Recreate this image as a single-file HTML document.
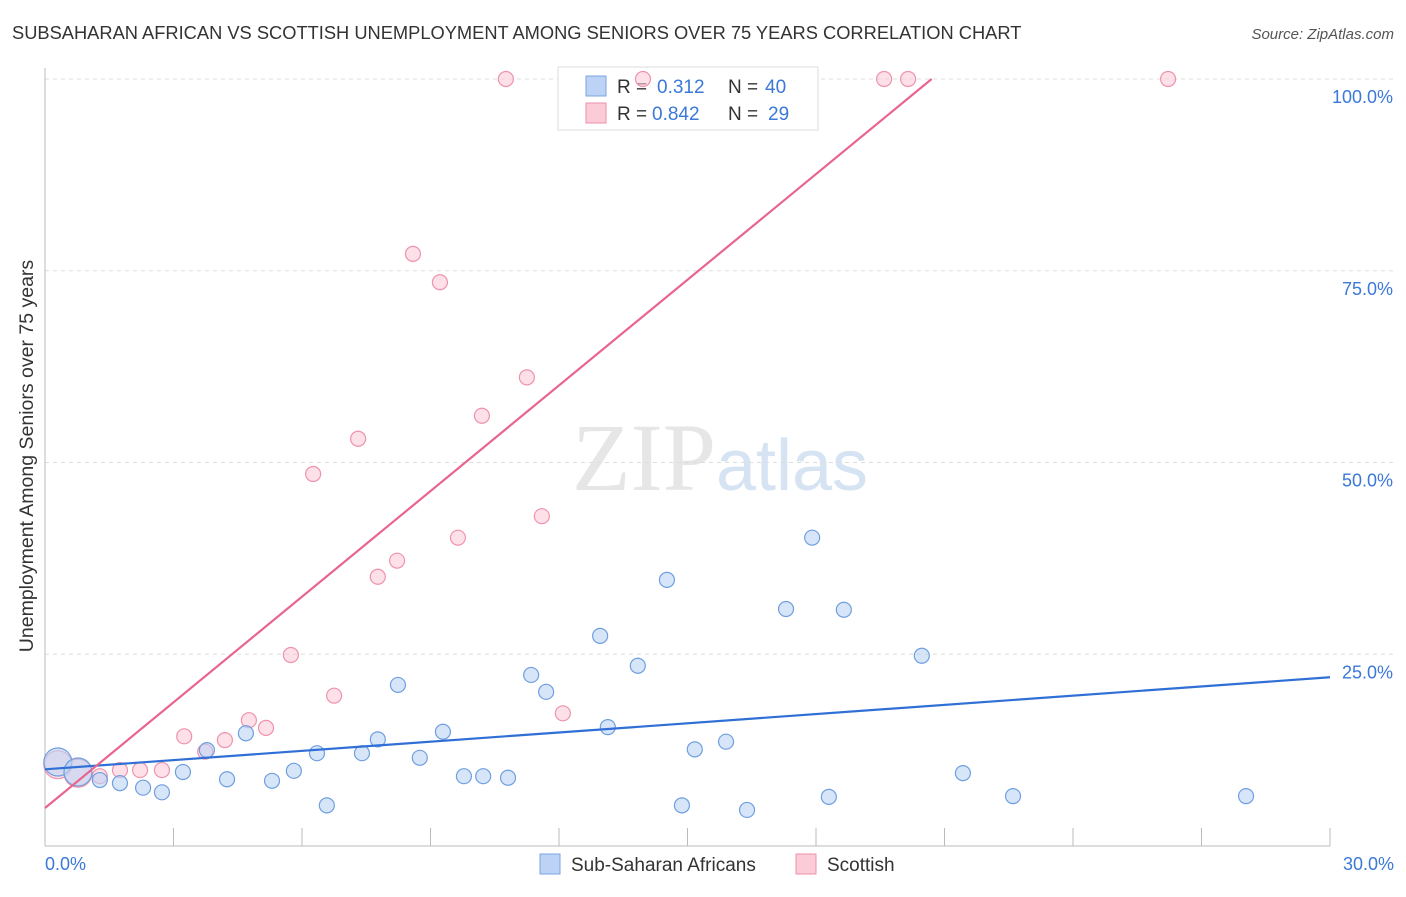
<!DOCTYPE html>
<html><head><meta charset="utf-8"><style>
body{margin:0;background:#fff;font-family:"Liberation Sans",sans-serif}
</style></head><body>
<svg id="chart" width="1406" height="892" xmlns="http://www.w3.org/2000/svg" font-family="Liberation Sans, sans-serif">
<text x="12" y="39" font-size="18.3" fill="#333">SUBSAHARAN AFRICAN VS SCOTTISH UNEMPLOYMENT AMONG SENIORS OVER 75 YEARS CORRELATION CHART</text>
<text x="1394" y="39" font-size="15" fill="#555" text-anchor="end" font-style="italic">Source: ZipAtlas.com</text>
<text x="720" y="490" font-size="96" text-anchor="middle" fill="#e6e6e6" font-family="Liberation Serif, serif">ZIP<tspan fill="#d6e3f3" font-family="Liberation Sans, sans-serif" font-size="72">atlas</tspan></text>
<g id="grid"></g>
<g id="axes"></g>
<g>
<rect x="558" y="67" width="260" height="63" fill="#fff" stroke="#ddd"/>
<rect x="586" y="76" width="20" height="20" fill="#bcd3f5" stroke="#7aa6e0"/>
<rect x="586" y="103" width="20" height="20" fill="#fbcbd8" stroke="#ee92ad"/>
<text x="617" y="93" font-size="19" fill="#333">R =</text>
<text x="657" y="93" font-size="19" fill="#3b78d8">0.312</text>
<text x="728" y="93" font-size="19" fill="#333">N =</text>
<text x="765" y="93" font-size="19" fill="#3b78d8">40</text>
<text x="617" y="120" font-size="19" fill="#333">R =</text>
<text x="652" y="120" font-size="19" fill="#3b78d8">0.842</text>
<text x="728" y="120" font-size="19" fill="#333">N =</text>
<text x="768" y="120" font-size="19" fill="#3b78d8">29</text>
</g>
<g id="marks"></g>
<text transform="translate(33,456) rotate(-90)" font-size="19.5" fill="#333" text-anchor="middle">Unemployment Among Seniors over 75 years</text>
<g>
<rect x="540" y="854" width="20" height="20" fill="#bcd3f5" stroke="#7aa6e0"/>
<text x="571" y="871" font-size="19" fill="#333">Sub-Saharan Africans</text>
<rect x="796" y="854" width="20" height="20" fill="#fbcbd8" stroke="#ee92ad"/>
<text x="827" y="871" font-size="19" fill="#333">Scottish</text>
</g>
</svg>
<script>
const blueX=[0.30,0.77,1.28,1.75,2.29,2.73,3.22,3.78,4.25,4.69,5.30,5.81,6.35,6.58,7.40,7.77,8.24,8.75,9.29,9.78,10.23,10.81,11.35,11.70,12.96,13.14,13.84,14.52,14.87,15.17,15.90,16.39,17.30,17.91,18.30,18.65,20.47,21.43,22.60,28.04];
const blueY=[10.95,9.65,8.6,8.2,7.6,7.0,9.65,12.5,8.7,14.7,8.5,9.8,12.1,5.3,12.1,13.9,21.0,11.5,14.9,9.1,9.1,8.9,22.3,20.1,27.4,15.5,23.5,34.7,5.3,12.6,13.6,4.7,30.9,40.2,6.4,30.8,24.8,9.5,6.5,6.5];
const pinkX=[0.30,0.77,1.28,1.75,2.22,2.73,3.25,3.74,4.20,4.76,5.16,5.74,6.26,6.75,7.31,7.77,8.22,8.59,9.22,9.64,10.20,10.76,11.25,11.60,12.09,13.96,19.59,20.15,26.22];
const pinkY=[10.6,9.5,9.1,9.9,9.9,9.9,14.3,12.3,13.8,16.4,15.4,24.9,48.5,19.6,53.1,35.1,37.2,77.2,73.5,40.2,56.1,100,61.1,43.0,17.3,100,100,100,100];
const blueTrend=[10.0,22.0];
const pinkTrend=[4.95,100];const pinkTrendEndX=20.7;
const yTicks=[25,50,75,100];
const xTickLabels=["0.0%","30.0%"];
const NS="http://www.w3.org/2000/svg";
const X0=45,X1=1330,Y0=846,Y100=79;
const sx=v=>X0+(v/30)*(X1-X0);
const sy=v=>Y0-(v/100)*(Y0-Y100);
function mk(tag,attrs,parent){const e=document.createElementNS(NS,tag);for(const k in attrs)e.setAttribute(k,attrs[k]);document.getElementById(parent).appendChild(e);return e;}
yTicks.forEach(t=>{
 const l=mk('line',{x1:X0,x2:1394,y1:sy(t),y2:sy(t),stroke:'#ddd','stroke-dasharray':'4,4'},'grid');
 
 
 const tx=mk('text',{x:1393,y:sy(t)+24,'font-size':18,fill:'#3b78d8','text-anchor':'end'},'axes');
 tx.textContent=t.toFixed(1)+'%';
 
 
});
const ax=mk('line',{x1:X0,x2:X0,y1:68,y2:Y0,stroke:'#bbb'},'axes');


const bx=mk('line',{x1:X0,x2:X1,y1:Y0,y2:Y0,stroke:'#bbb'},'axes');


for(let i=1;i<=10;i++){const t=mk('line',{x1:sx(i*3),x2:sx(i*3),y1:828,y2:Y0,stroke:'#bbb'},'axes');
 
 }
[[0,'start',45],[30,'end',1394]].forEach((d,i)=>{const t=mk('text',{x:d[2],y:870,'font-size':18,fill:'#3b78d8','text-anchor':d[1]},'axes');t.textContent=xTickLabels[i];
 
 });
function dots(xs,ys,fill,stroke,name){xs.forEach((x,i)=>{const c=mk('circle',{cx:sx(x),cy:sy(ys[i]),r:i<2?14:7.5,fill:fill,'fill-opacity':0.6,stroke:stroke,'stroke-width':1.2},'marks');
 
 });}
dots(pinkX,pinkY,'#fbcbd8','#ee92ad','scottish-point');
dots(blueX,blueY,'#bcd3f5','#6f9fe0','subsaharan-point');
const bl=mk('line',{x1:sx(0),y1:sy(blueTrend[0]),x2:sx(30),y2:sy(blueTrend[1]),stroke:'#2f6fd6','stroke-width':2.2},'marks');


const pl=mk('line',{x1:sx(0),y1:sy(pinkTrend[0]),x2:sx(pinkTrendEndX),y2:sy(pinkTrend[1]),stroke:'#e8658f','stroke-width':2.2},'marks');


</script>
</body></html>
